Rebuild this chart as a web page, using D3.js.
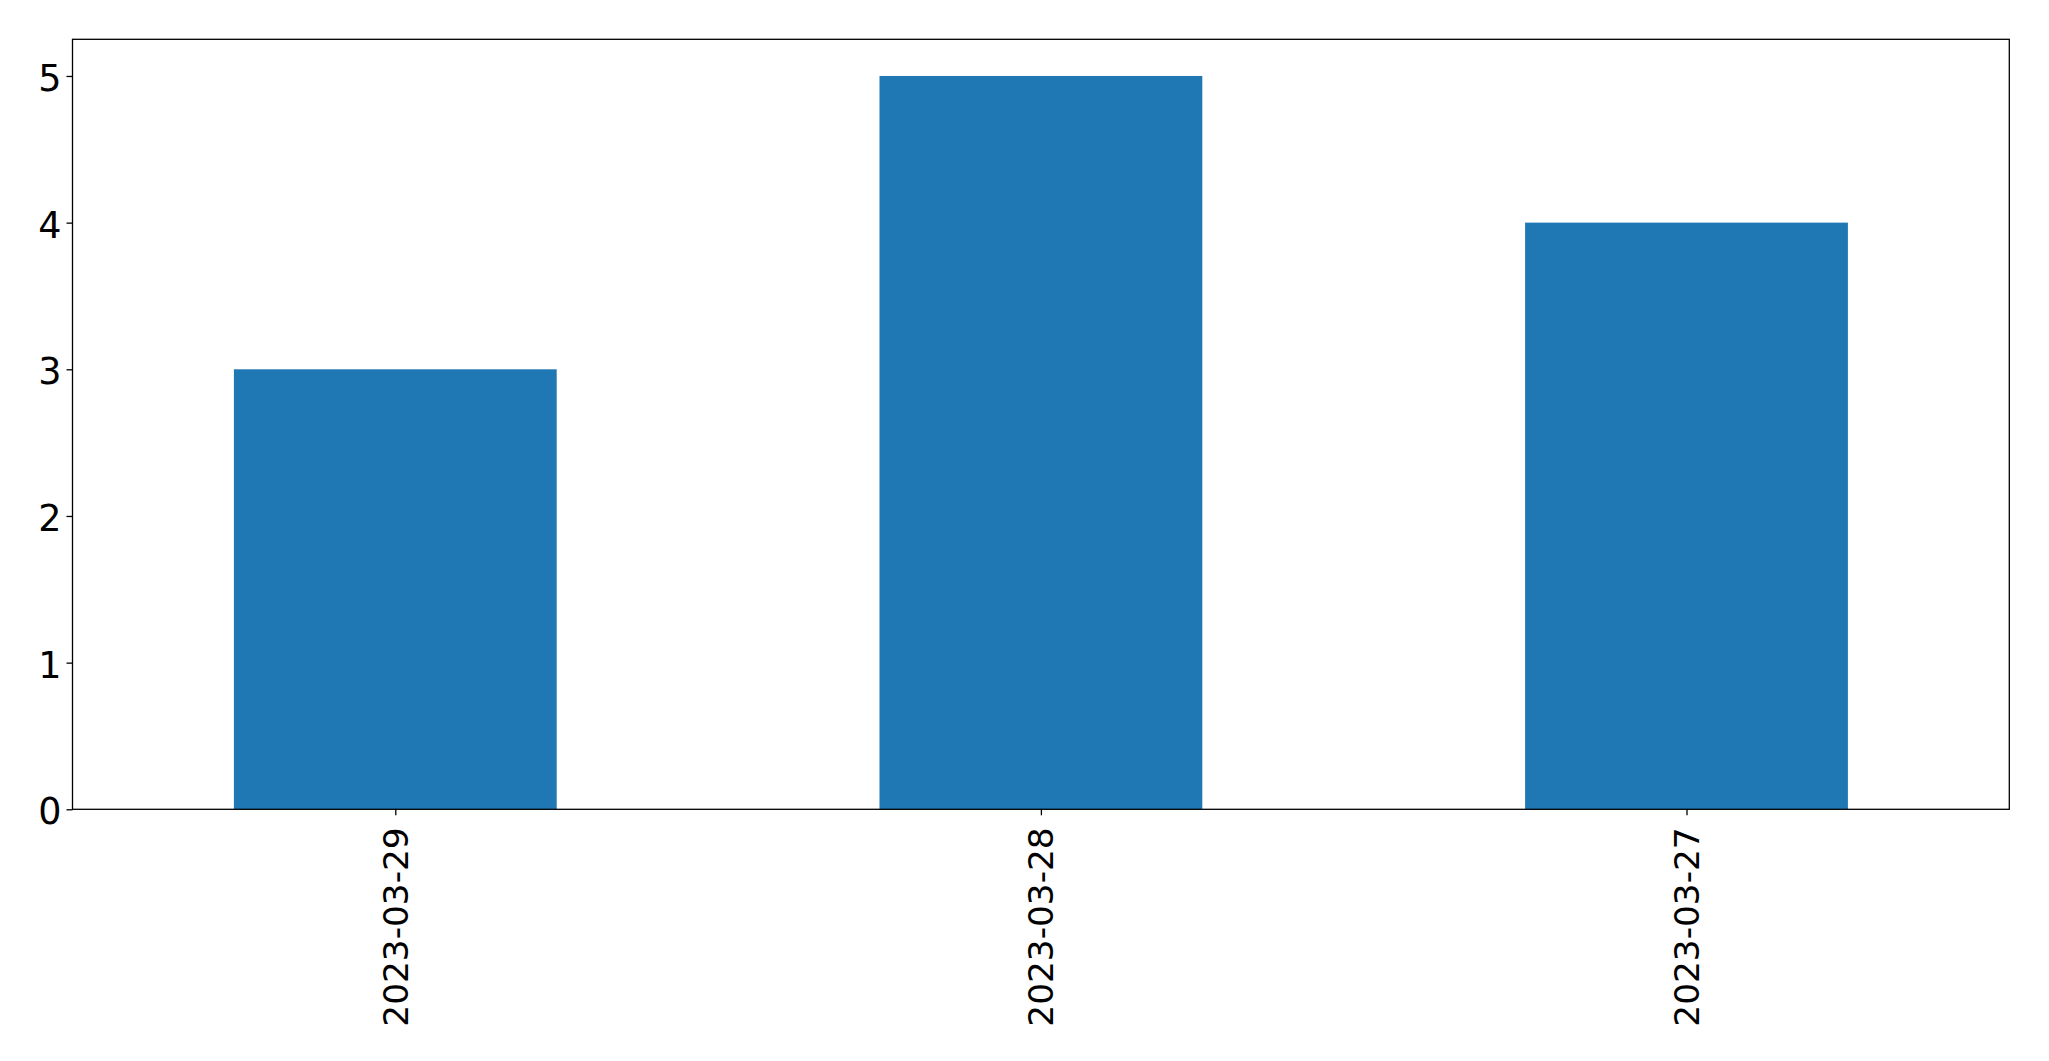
<!DOCTYPE html>
<html><head><meta charset="utf-8">
<script src="https://cdn.jsdelivr.net/npm/d3@7"></script>
<style>body{margin:0;background:#fff}svg{display:block}</style>
</head><body>
<script>
const categories = ["2023-03-29", "2023-03-28", "2023-03-27"];
const values = [3, 5, 4];
const yTicks = [0, 1, 2, 3, 4, 5];

const W = 2049, H = 1061;
const m = {left: 72.5, right: 2049 - 2009.3, top: 39.3, bottom: 1061 - 809.3};
const svg = d3.select("body").append("svg").attr("width", W).attr("height", H);

const x = d3.scaleLinear().domain([-0.5, categories.length - 0.5]).range([m.left, W - m.right]);
const y = d3.scaleLinear().domain([0, 5.25]).range([H - m.bottom, m.top]);
const bw = x(0.25) - x(-0.25);

svg.append("g").selectAll("rect").data(values).join("rect")
  .attr("x", (d, i) => x(i) - bw / 2)
  .attr("y", d => y(d))
  .attr("width", bw)
  .attr("height", d => y(0) - y(d))
  .attr("fill", "#1f77b4");

const font = "DejaVu Sans";

const yAxis = d3.axisLeft(y).tickValues(yTicks).tickFormat(d3.format("d")).tickSize(6).tickPadding(5);
const gy = svg.append("g").attr("transform", `translate(${m.left},0)`).call(yAxis);
gy.select(".domain").remove();
gy.selectAll("line").attr("stroke", "#000").attr("stroke-width", 1.3);
gy.selectAll("text").attr("font-family", font).attr("font-size", 36.5).attr("fill", "#000")
  .attr("dy", "0.4em");

const xAxis = d3.axisBottom(x).tickValues(d3.range(categories.length)).tickFormat(i => categories[i]).tickSize(6).tickPadding(10);
const gx = svg.append("g").attr("transform", `translate(0,${H - m.bottom})`).call(xAxis);
gx.select(".domain").remove();
gx.selectAll("line").attr("stroke", "#000").attr("stroke-width", 1.3);
gx.selectAll("text").attr("font-family", font).attr("font-size", 34.3).attr("fill", "#000")
  .attr("transform", "rotate(-90)").attr("text-anchor", "end")
  .attr("x", -18).attr("y", 0).attr("dy", "0.35em");

svg.append("rect").attr("x", m.left).attr("y", m.top)
  .attr("width", W - m.left - m.right).attr("height", H - m.top - m.bottom)
  .attr("fill", "none").attr("stroke", "#000").attr("stroke-width", 1.3);
</script>
</body></html>
